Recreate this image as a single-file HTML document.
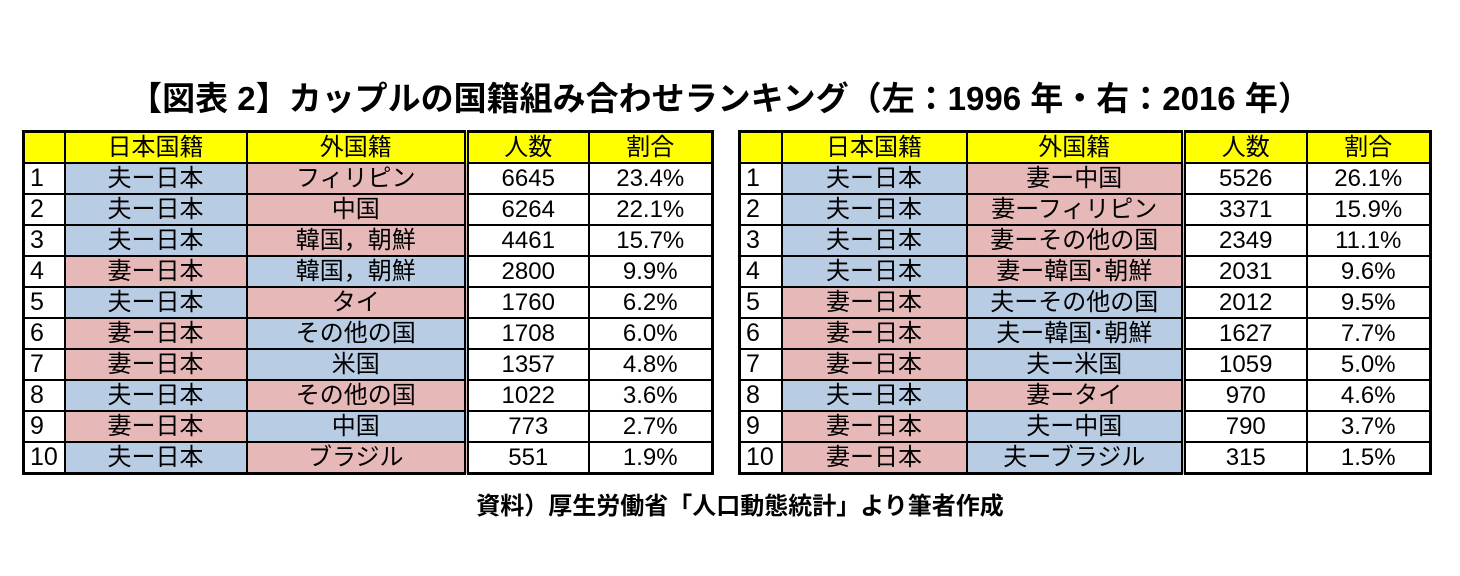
<!DOCTYPE html>
<html><head><meta charset="utf-8">
<style>
body{margin:0;width:1460px;height:576px;background:#fff;position:relative;overflow:hidden;font-family:"Liberation Sans","Noto Sans CJK JP",sans-serif;}
.title{position:absolute;left:0;width:1440px;top:72px;text-align:center;font-size:33px;font-weight:bold;color:#000;}
.src{position:absolute;left:0;width:1480px;top:486px;text-align:center;font-size:24px;font-weight:bold;}
table{position:absolute;top:130px;border-collapse:collapse;border:3px solid #000;table-layout:fixed;}
td{border:2px solid #000;height:29px;padding:0;text-align:center;font-size:24px;line-height:29px;color:#000;white-space:nowrap;}
td.r{text-align:left;padding-left:5px;font-size:25px;}
tr.h td{background:#ffff00;}
.b{background:#b8cce4;}
.p{background:#e6b8b7;}
td.dl{border-left:5px double #000;}
</style></head><body>
<div class="title">【図表 2】カップルの国籍組み合わせランキング（左：1996 年・右：2016 年）</div>

<table style="left:22px;width:689px;">
<colgroup><col style="width:41px"><col style="width:182px"><col style="width:220px"><col style="width:122px"><col style="width:124px"></colgroup>
<tr class="h"><td></td><td>日本国籍</td><td>外国籍</td><td class="dl">人数</td><td>割合</td></tr>
<tr><td class="r">1</td><td class="b">夫ー日本</td><td class="p">フィリピン</td><td class="dl">6645</td><td>23.4%</td></tr>
<tr><td class="r">2</td><td class="b">夫ー日本</td><td class="p">中国</td><td class="dl">6264</td><td>22.1%</td></tr>
<tr><td class="r">3</td><td class="b">夫ー日本</td><td class="p">韓国，朝鮮</td><td class="dl">4461</td><td>15.7%</td></tr>
<tr><td class="r">4</td><td class="p">妻ー日本</td><td class="b">韓国，朝鮮</td><td class="dl">2800</td><td>9.9%</td></tr>
<tr><td class="r">5</td><td class="b">夫ー日本</td><td class="p">タイ</td><td class="dl">1760</td><td>6.2%</td></tr>
<tr><td class="r">6</td><td class="p">妻ー日本</td><td class="b">その他の国</td><td class="dl">1708</td><td>6.0%</td></tr>
<tr><td class="r">7</td><td class="p">妻ー日本</td><td class="b">米国</td><td class="dl">1357</td><td>4.8%</td></tr>
<tr><td class="r">8</td><td class="b">夫ー日本</td><td class="p">その他の国</td><td class="dl">1022</td><td>3.6%</td></tr>
<tr><td class="r">9</td><td class="p">妻ー日本</td><td class="b">中国</td><td class="dl">773</td><td>2.7%</td></tr>
<tr><td class="r">10</td><td class="b">夫ー日本</td><td class="p">ブラジル</td><td class="dl">551</td><td>1.9%</td></tr>
</table>

<table style="left:738px;width:691px;">
<colgroup><col style="width:42px"><col style="width:185px"><col style="width:217px"><col style="width:123px"><col style="width:124px"></colgroup>
<tr class="h"><td></td><td>日本国籍</td><td>外国籍</td><td class="dl">人数</td><td>割合</td></tr>
<tr><td class="r">1</td><td class="b">夫ー日本</td><td class="p">妻ー中国</td><td class="dl">5526</td><td>26.1%</td></tr>
<tr><td class="r">2</td><td class="b">夫ー日本</td><td class="p">妻ーフィリピン</td><td class="dl">3371</td><td>15.9%</td></tr>
<tr><td class="r">3</td><td class="b">夫ー日本</td><td class="p">妻ーその他の国</td><td class="dl">2349</td><td>11.1%</td></tr>
<tr><td class="r">4</td><td class="b">夫ー日本</td><td class="p">妻ー韓国･朝鮮</td><td class="dl">2031</td><td>9.6%</td></tr>
<tr><td class="r">5</td><td class="p">妻ー日本</td><td class="b">夫ーその他の国</td><td class="dl">2012</td><td>9.5%</td></tr>
<tr><td class="r">6</td><td class="p">妻ー日本</td><td class="b">夫ー韓国･朝鮮</td><td class="dl">1627</td><td>7.7%</td></tr>
<tr><td class="r">7</td><td class="p">妻ー日本</td><td class="b">夫ー米国</td><td class="dl">1059</td><td>5.0%</td></tr>
<tr><td class="r">8</td><td class="b">夫ー日本</td><td class="p">妻ータイ</td><td class="dl">970</td><td>4.6%</td></tr>
<tr><td class="r">9</td><td class="p">妻ー日本</td><td class="b">夫ー中国</td><td class="dl">790</td><td>3.7%</td></tr>
<tr><td class="r">10</td><td class="p">妻ー日本</td><td class="b">夫ーブラジル</td><td class="dl">315</td><td>1.5%</td></tr>
</table>

<div class="src">資料）厚生労働省「人口動態統計」より筆者作成</div>
</body></html>
